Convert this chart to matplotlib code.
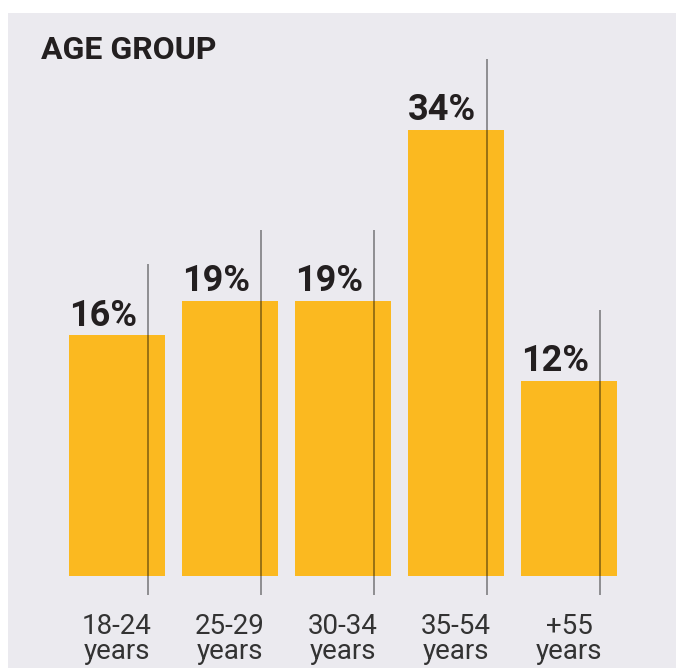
import numpy as np
import matplotlib
matplotlib.use("Agg")
import matplotlib.pyplot as plt
from matplotlib.patches import Rectangle

# Age-group shares (%)
categories = ["18-24\nyears", "25-29\nyears", "30-34\nyears", "35-54\nyears", "+55\nyears"]
shares = [16, 19, 19, 34, 12]
value_labels = ["16%", "19%", "19%", "34%", "12%"]

BAR_COLOR = "#FBB920"
PANEL_COLOR = "#EBEAEF"
TEXT_COLOR = "#231F20"

W, H = 676, 668
fig = plt.figure(figsize=(W / 100, H / 100), dpi=100)
fig.patch.set_facecolor("white")

# light grey card behind the chart
fig.patches.append(Rectangle((8 / W, 0), 1 - 8 / W, 1 - 13 / H,
                             transform=fig.transFigure, facecolor=PANEL_COLOR,
                             edgecolor="none", zorder=-5))

ax_left, ax_right = 60.5, 625.5
ax_top, ax_bottom = 40, 576
ax = fig.add_axes([ax_left / W, 1 - ax_bottom / H,
                   (ax_right - ax_left) / W, (ax_bottom - ax_top) / H])
ax.set_zorder(2)
ax.set_facecolor("none")
for s in ax.spines.values():
    s.set_visible(False)

x = np.arange(len(shares))
floor = -5.08
ax.set_xlim(-0.5, len(shares) - 0.5)
ax.set_ylim(floor, 41.86)

vals = np.array(shares, dtype=float)
bar_w = 0.85
ax.bar(x, vals - floor, bottom=floor, width=bar_w, color=BAR_COLOR, zorder=2)

# thin marker lines crossing each bar
line_x = x + 0.275
ax.vlines(line_x, floor - 1.7, vals + 6.2, color="black", alpha=0.5,
          linewidth=1.1, zorder=3, clip_on=False)

for xi, v, lab in zip(x, vals, value_labels):
    ax.annotate(lab, (xi - bar_w / 2, v), xytext=(0, 7), textcoords="offset points",
                ha="left", va="baseline", fontsize=26, fontweight="bold",
                family="Roboto", color=TEXT_COLOR, zorder=4)

ax.set_yticks([])
ax.set_xticks(x)
ax.set_xticklabels(categories, fontsize=20, family="Roboto", color="#333333",
                   linespacing=0.88)
ax.tick_params(axis="x", length=0, pad=27)

fig.text(41 / W, 1 - 59 / H, "AGE GROUP", ha="left", va="baseline",
         fontsize=23, fontweight="bold", family="Roboto", color=TEXT_COLOR)

fig.savefig("out.png", dpi=100, facecolor=fig.get_facecolor())
